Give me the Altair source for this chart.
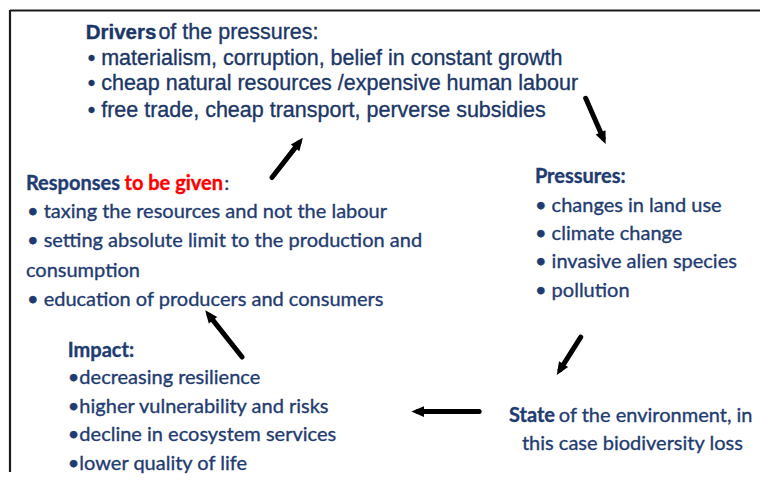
import math
import altair as alt
import pandas as pd

# ---------------- text content ----------------
drivers_head_bold = "Drivers"
drivers_head_rest = "of the pressures:"
drivers_items = [
    "• materialism, corruption, belief in constant growth",
    "• cheap natural resources /expensive human labour",
    "• free trade, cheap transport, perverse subsidies",
]

responses_head_bold = "Responses"
responses_head_red = "to be given"
responses_head_rest = ":"
responses_items = [
    "• taxing the resources and not the labour",
    "• setting absolute limit to the production and",
    "consumption",
    "• education of producers and consumers",
]

pressures_head = "Pressures:"
pressures_items = [
    "• changes in land use",
    "• climate change",
    "• invasive alien species",
    "• pollution",
]

impact_head = "Impact:"
impact_items = [
    "•decreasing resilience",
    "•higher vulnerability and risks",
    "•decline in ecosystem services",
    "•lower quality of life",
]

state_head_bold = "State"
state_head_rest = "of the environment, in"
state_line2 = "this case biodiversity loss"

# ---------------- layout (diagram coordinates) ----------------
drivers_x, drivers_rest_x = 85, 158
drivers_head_y = 37
drivers_items_x = 87
drivers_items_y = [63, 89, 116]

responses_x, responses_red_x, responses_colon_x = 25, 124, 224
responses_head_y = 190
responses_items_x = [26, 26, 25, 26]
responses_items_y = [218, 247, 277, 307]

pressures_x = 536
pressures_head_y = 182
pressures_items_y = [212, 240, 268, 297]

impact_x = 67
impact_head_y = 358
impact_items_y = [385, 414, 443, 472]

state_x, state_rest_x = 510, 560
state_head_y = 424
state_line2_x, state_line2_y = 523, 452

# arrows: tail -> tip
arrow_x0 = [587, 582, 480, 242, 272]
arrow_y0 = [97, 338, 413, 358, 177]
arrow_x1 = [607, 558, 412, 205, 303]
arrow_y1 = [143, 376, 413, 311, 137]

# frame lines
frame_x0 = [9, 9]
frame_y0 = [8.5, 8]
frame_x1 = [762, 9]
frame_y1 = [8.5, 474]

BLUE = "#1f3c72"
BLUE_D = "#1b3767"
RED = "#ff0000"
BODY_FONT = "Lato, Carlito, 'Open Sans', sans-serif"
DRV_FONT = "'Liberation Sans', Arial, sans-serif"
BODY_SIZE = 20
DRV_SIZE = 21.5

# ---------------- scales ----------------
xs = alt.Scale(domain=[8, 762], nice=False, zero=False)
ys = alt.Scale(domain=[8, 474], nice=False, zero=False, reverse=True)


def text_layer(texts, xs_, ys_, font, size, weight, color, size_override=None):
    df = pd.DataFrame({"t": texts, "x": xs_, "y": ys_})
    return alt.Chart(df).mark_text(
        align="left", baseline="alphabetic", font=font,
        fontSize=size_override or size,
        fontWeight=weight, color=color, stroke=color, strokeWidth=0.35
    ).encode(
        x=alt.X("x:Q", scale=xs, axis=None),
        y=alt.Y("y:Q", scale=ys, axis=None),
        text="t:N",
    )


layers = []
# Drivers
layers.append(text_layer([drivers_head_bold], [drivers_x], [drivers_head_y], DRV_FONT, DRV_SIZE, "bold", BLUE_D, 20.5))
layers.append(text_layer([drivers_head_rest], [drivers_rest_x], [drivers_head_y], DRV_FONT, DRV_SIZE, "normal", BLUE_D))
layers.append(text_layer(drivers_items, [drivers_items_x] * 3, drivers_items_y, DRV_FONT, DRV_SIZE, "normal", BLUE_D))
# Responses
layers.append(text_layer([responses_head_bold], [responses_x], [responses_head_y], BODY_FONT, BODY_SIZE, "bold", BLUE))
layers.append(text_layer([responses_head_red], [responses_red_x], [responses_head_y], BODY_FONT, BODY_SIZE, "bold", RED))
layers.append(text_layer([responses_head_rest], [responses_colon_x], [responses_head_y], BODY_FONT, BODY_SIZE, "normal", BLUE))
layers.append(text_layer(responses_items, responses_items_x, responses_items_y, BODY_FONT, BODY_SIZE, "normal", BLUE))
# Pressures
layers.append(text_layer([pressures_head], [pressures_x], [pressures_head_y], BODY_FONT, BODY_SIZE, "bold", BLUE))
layers.append(text_layer(pressures_items, [pressures_x] * 4, pressures_items_y, BODY_FONT, BODY_SIZE, "normal", BLUE))
# Impact
layers.append(text_layer([impact_head], [impact_x], [impact_head_y], BODY_FONT, BODY_SIZE, "bold", BLUE))
layers.append(text_layer(impact_items, [impact_x] * 4, impact_items_y, BODY_FONT, BODY_SIZE, "normal", BLUE))
# State
layers.append(text_layer([state_head_bold], [state_x], [state_head_y], BODY_FONT, BODY_SIZE, "bold", BLUE))
layers.append(text_layer([state_head_rest], [state_rest_x], [state_head_y], BODY_FONT, BODY_SIZE, "normal", BLUE))
layers.append(text_layer([state_line2], [state_line2_x], [state_line2_y], BODY_FONT, BODY_SIZE, "normal", BLUE))

# ---------------- arrows ----------------
HEAD_SIZE = 160
L = math.sqrt(HEAD_SIZE)
rows = []
for x0, y0, x1, y1 in zip(arrow_x0, arrow_y0, arrow_x1, arrow_y1):
    dx, dy = x1 - x0, y1 - y0
    n = math.hypot(dx, dy)
    ux, uy = dx / n, dy / n
    cx, cy = x1 - ux * L / 2, y1 - uy * L / 2
    ang = math.degrees(math.atan2(dx, -dy)) % 360
    rows.append({"x0": x0, "y0": y0, "xe": cx, "ye": cy, "hx": cx, "hy": cy, "ang": ang})
adf = pd.DataFrame(rows)

shafts = alt.Chart(adf).mark_rule(color="black", strokeWidth=5, strokeCap="round").encode(
    x=alt.X("x0:Q", scale=xs, axis=None),
    y=alt.Y("y0:Q", scale=ys, axis=None),
    x2="xe:Q",
    y2="ye:Q",
)
heads = alt.Chart(adf).mark_point(
    shape="M0,-1L0.85,1L-0.85,1Z", filled=True, color="black", opacity=1, size=HEAD_SIZE, strokeWidth=0
).encode(
    x=alt.X("hx:Q", scale=xs, axis=None),
    y=alt.Y("hy:Q", scale=ys, axis=None),
    angle=alt.Angle("ang:Q", scale=None),
)

fdf = pd.DataFrame({"x0": frame_x0, "y0": frame_y0, "x1": frame_x1, "y1": frame_y1})
frame = alt.Chart(fdf).mark_rule(color="#1a1a1a", strokeWidth=2.2).encode(
    x=alt.X("x0:Q", scale=xs, axis=None),
    y=alt.Y("y0:Q", scale=ys, axis=None),
    x2="x1:Q",
    y2="y1:Q",
)

chart = alt.layer(frame, shafts, heads, *layers).properties(
    width=754, height=466,
    autosize=alt.AutoSizeParams(type="fit", contains="padding"),
    padding=0,
    background="white",
).configure_view(stroke=None)

chart.save("out.html", embed_options={"renderer": "svg", "actions": False})
